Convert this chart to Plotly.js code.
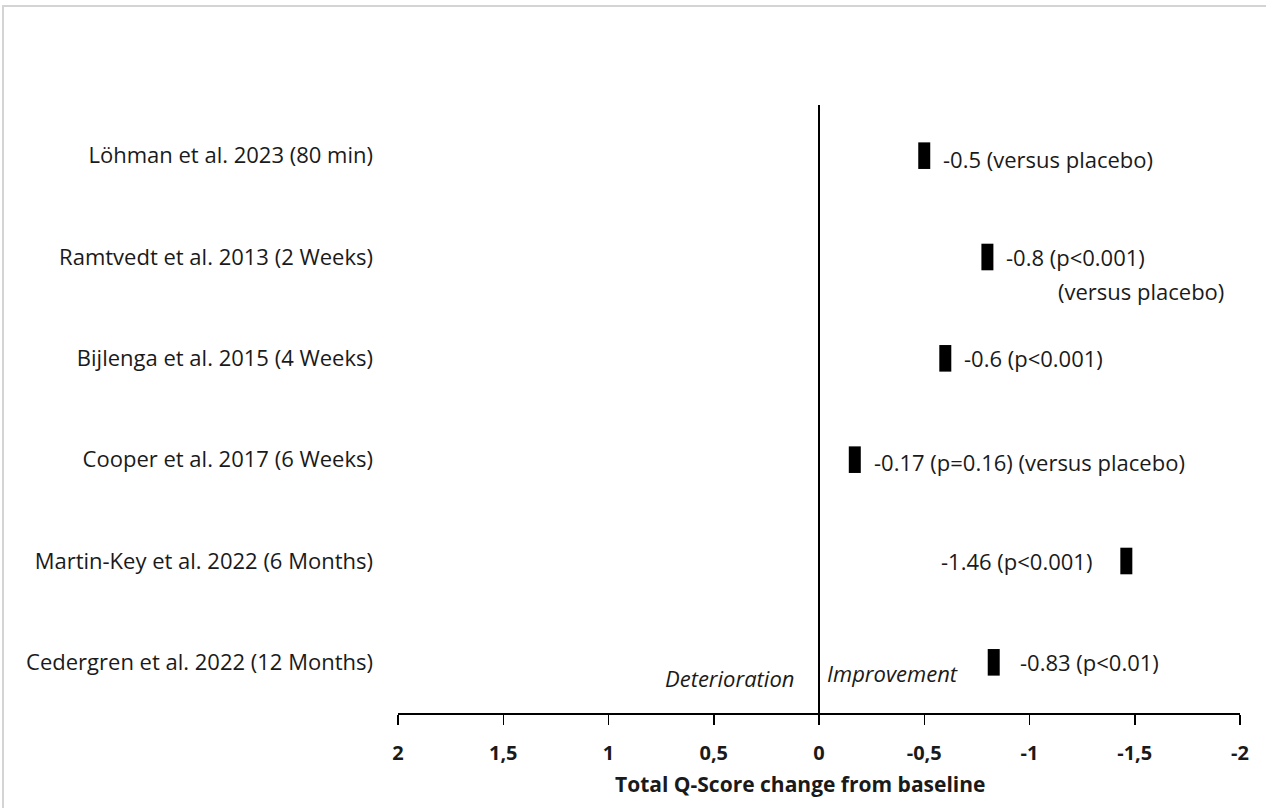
<!DOCTYPE html>
<html>
<head>
<meta charset="utf-8">
<script src="https://cdn.plot.ly/plotly-3.0.1.min.js"></script>
<style>
html,body{margin:0;padding:0;background:#fff;}
#frame{position:absolute;left:2px;top:5px;width:1264px;height:803px;border-top:2px solid #d4d4d4;border-left:2px solid #d4d4d4;pointer-events:none;z-index:5;}
#chart{position:absolute;left:0;top:0;width:1266px;height:808px;}
</style>
</head>
<body>
<div id="chart"></div>
<div id="frame"></div>
<script>
const studies = [
  "Löhman et al. 2023 (80 min)",
  "Ramtvedt et al. 2013 (2 Weeks)",
  "Bijlenga et al. 2015 (4 Weeks)",
  "Cooper et al. 2017 (6 Weeks)",
  "Martin-Key et al. 2022 (6 Months)",
  "Cedergren et al. 2022 (12 Months)"
];
const changes = [-0.5, -0.8, -0.6, -0.17, -1.46, -0.83];
const resultLabels = [
  "-0.5 (versus placebo)",
  "-0.8 (p<0.001)",
  "-0.6 (p<0.001)",
  "-0.17 (p=0.16) (versus placebo)",
  "-1.46 (p<0.001)",
  "-0.83 (p<0.01)"
];
const secondLine = ["", "(versus placebo)", "", "", "", ""];
const xTickVals = [2, 1.5, 1, 0.5, 0, -0.5, -1, -1.5, -2];
const xTickText = ["2", "1,5", "1", "0,5", "0", "-0,5", "-1", "-1,5", "-2"];
const xAxisTitle = "Total Q-Score change from baseline";

const FONT = "'Open Sans', sans-serif";
const TXT = "#1a1a1a";
const FS = 22;
const idx = studies.map((s, i) => i);

const annotations = [];
studies.forEach((s, i) => {
  const leftSide = i === 4;
  annotations.push({
    x: changes[i], y: i, xref: "x", yref: "y",
    text: resultLabels[i], showarrow: false,
    xanchor: leftSide ? "right" : "left",
    xshift: leftSide ? -32 : (i === 5 ? 24 : 17),
    yshift: (i === 0 ? -3 : (i === 3 ? -2 : 0)),
    font: {family: FONT, size: FS, color: TXT}
  });
  if (secondLine[i]) {
    annotations.push({
      x: changes[i], y: i, xref: "x", yref: "y",
      text: secondLine[i], showarrow: false,
      xanchor: "left", xshift: 69, yshift: -34,
      font: {family: FONT, size: FS, color: TXT}
    });
  }
});
annotations.push({
  x: 0, y: 5, xref: "x", yref: "y", text: "<i>Deterioration</i>", showarrow: false,
  xanchor: "right", xshift: -22, yshift: -16,
  font: {family: FONT, size: FS, color: TXT}
});
annotations.push({
  x: 0, y: 5, xref: "x", yref: "y", text: "<i>Improvement</i>", showarrow: false,
  xanchor: "left", xshift: 6, yshift: -11,
  font: {family: FONT, size: FS, color: TXT}
});
annotations.push({
  x: 0, y: 0, xref: "x", yref: "paper", text: "<b>" + xAxisTitle + "</b>", showarrow: false,
  xanchor: "center", yanchor: "top", xshift: -19, yshift: -55,
  font: {family: FONT, size: 21, color: TXT}
});

const trace = {
  x: changes, y: idx, type: "scatter", mode: "markers",
  marker: {symbol: "line-ns-open", size: 19, color: "#000", line: {width: 12, color: "#000"}},
  hoverinfo: "x+y", showlegend: false, cliponaxis: false
};

const layout = {
  width: 1266, height: 808,
  margin: {l: 398, r: 26, t: 105, b: 95},
  paper_bgcolor: "#fff", plot_bgcolor: "#fff",
  font: {family: FONT, color: TXT},
  xaxis: {
    range: [2, -2], tickvals: xTickVals, ticktext: xTickText,
    showgrid: false, zeroline: true, zerolinecolor: "#000", zerolinewidth: 1.5,
    showline: true, linecolor: "#000", linewidth: 1.5,
    ticks: "outside", ticklen: 10, tickwidth: 1.5, tickcolor: "#000",
    ticklabelstandoff: 11,
    tickfont: {family: FONT, size: 20, color: TXT, weight: "bold"},
    fixedrange: true
  },
  yaxis: {
    range: [5.5, -0.5], tickvals: idx, ticktext: studies,
    showgrid: false, zeroline: false, showline: false, ticks: "",
    ticklabelstandoff: 24,
    tickfont: {family: FONT, size: FS, color: TXT},
    fixedrange: true
  },
  annotations: annotations
};

Plotly.newPlot("chart", [trace], layout, {displayModeBar: false, staticPlot: true});
</script>
</body>
</html>
